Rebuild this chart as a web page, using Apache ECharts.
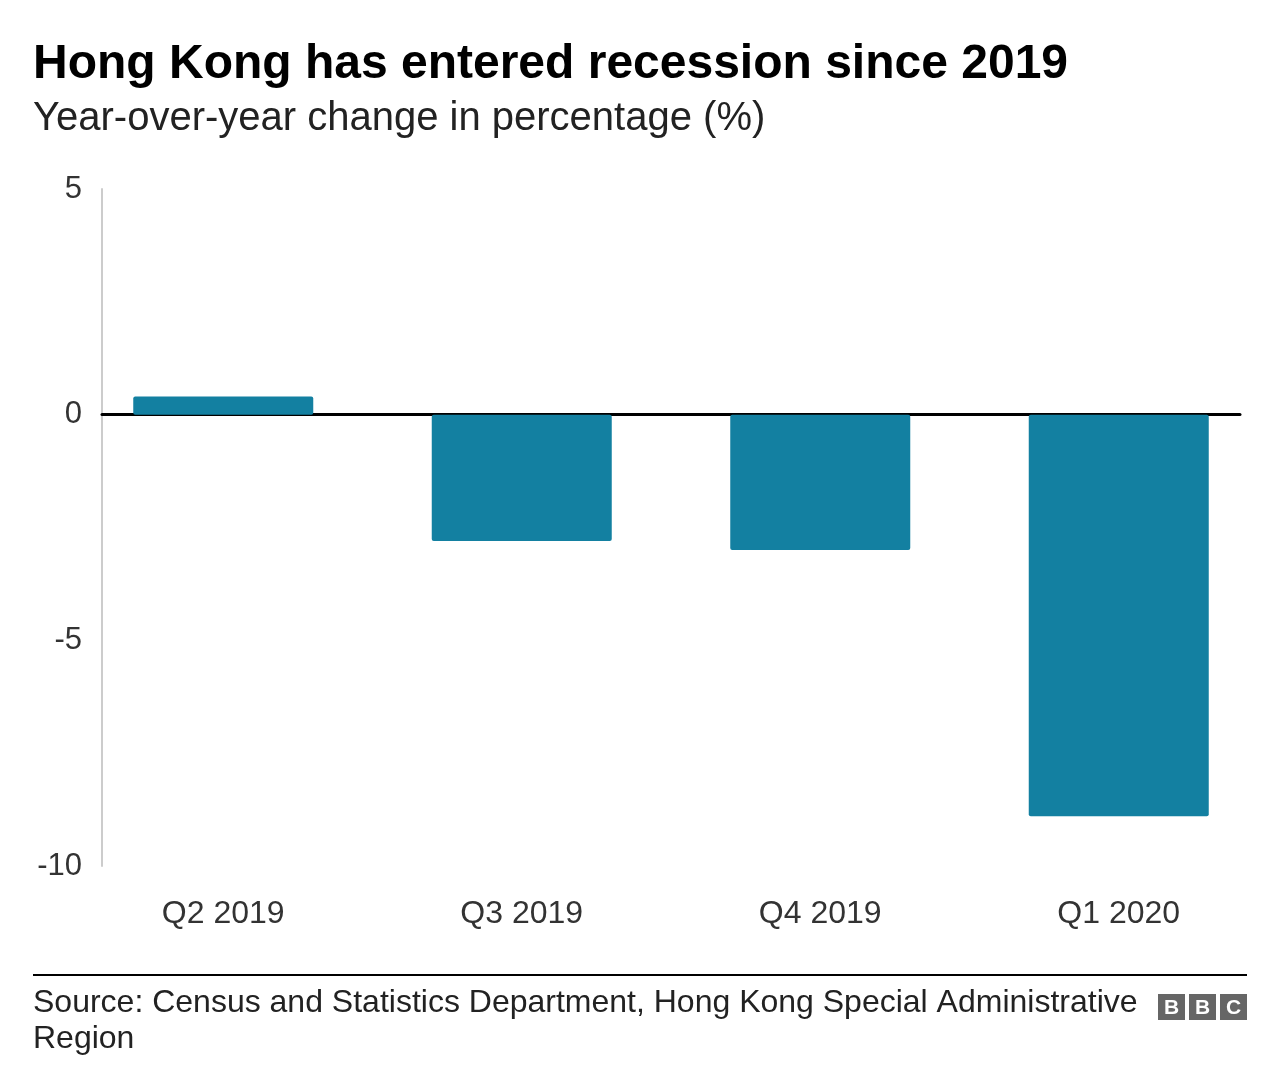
<!DOCTYPE html>
<html><head><meta charset="utf-8">
<script src="https://cdn.jsdelivr.net/npm/echarts@6/dist/echarts.min.js"></script>
<style>html,body{margin:0;padding:0;background:#fff}#c{width:1280px;height:1088px}</style>
</head><body><div id="c"></div>
<script>
const categories = ['Q2 2019', 'Q3 2019', 'Q4 2019', 'Q1 2020'];
const gdpChange = [0.4, -2.8, -3.0, -8.9];
const yTicks = [-10, -5, 0, 5];

const FONT = '"Liberation Sans", Arial, Helvetica, sans-serif';
const chart = echarts.init(document.getElementById('c'));
chart.setOption({
  animation: false,
  backgroundColor: '#fff',
  textStyle: { fontFamily: FONT },
  title: [
    { text: 'Hong Kong has entered recession since 2019', left: 28, top: 36,
      textStyle: { fontFamily: FONT, fontSize: 48, fontWeight: 'bold', color: '#000' } },
    { text: 'Year-over-year change in percentage (%)', left: 28, top: 94,
      textStyle: { fontFamily: FONT, fontSize: 40, fontWeight: 'normal', color: '#222' } }
  ],
  grid: [
    { left: 74, right: 12, top: 189, bottom: 222 },
    { left: 102, right: 40, top: 189, bottom: 222 }
  ],
  xAxis: [
    { type: 'category', gridIndex: 0, data: categories,
      axisLine: { show: false }, axisTick: { show: false },
      axisLabel: { color: '#333', fontSize: 32, margin: 32, fontFamily: FONT } },
    { type: 'value', gridIndex: 1, min: 0, max: 1, show: true,
      axisLine: { show: true, onZero: true, lineStyle: { color: '#000', width: 3 } },
      axisTick: { show: false }, axisLabel: { show: false }, splitLine: { show: false } }
  ],
  yAxis: [
    { type: 'value', gridIndex: 0, min: yTicks[0], max: yTicks[yTicks.length - 1], interval: 5,
      show: false, splitLine: { show: false } },
    { type: 'value', gridIndex: 1, min: yTicks[0], max: yTicks[yTicks.length - 1], interval: 5,
      axisLine: { show: true, lineStyle: { color: '#ccc', width: 2 } },
      axisTick: { show: false }, splitLine: { show: false },
      axisLabel: { color: '#333', fontSize: 31, margin: 20, fontFamily: FONT } }
  ],
  series: [
    { type: 'bar', xAxisIndex: 0, yAxisIndex: 0, data: gdpChange, barWidth: 180,
      itemStyle: { color: '#1380A1', borderRadius: 2 } }
  ],
  graphic: [
    { type: 'line', shape: { x1: 33, y1: 975, x2: 1247, y2: 975 }, style: { stroke: '#000', lineWidth: 2 } },
    { type: 'text', left: 33, top: 985, style: { text: 'Source: Census and Statistics Department, Hong Kong Special Administrative\nRegion',
      font: '32px ' + FONT, fill: '#222', lineHeight: 36 } },
    { type: 'group', left: 1158, top: 994, children: [
      { type: 'rect', shape: { x: 0, y: 0, width: 27, height: 26 }, style: { fill: '#666' } },
      { type: 'rect', shape: { x: 31, y: 0, width: 27, height: 26 }, style: { fill: '#666' } },
      { type: 'rect', shape: { x: 62, y: 0, width: 27, height: 26 }, style: { fill: '#666' } },
      { type: 'text', x: 13.5, y: 14, style: { text: 'B', font: 'bold 21px ' + FONT, fill: '#fff', align: 'center', verticalAlign: 'middle' } },
      { type: 'text', x: 44.5, y: 14, style: { text: 'B', font: 'bold 21px ' + FONT, fill: '#fff', align: 'center', verticalAlign: 'middle' } },
      { type: 'text', x: 75.5, y: 14, style: { text: 'C', font: 'bold 21px ' + FONT, fill: '#fff', align: 'center', verticalAlign: 'middle' } }
    ] }
  ]
});
</script></body></html>
